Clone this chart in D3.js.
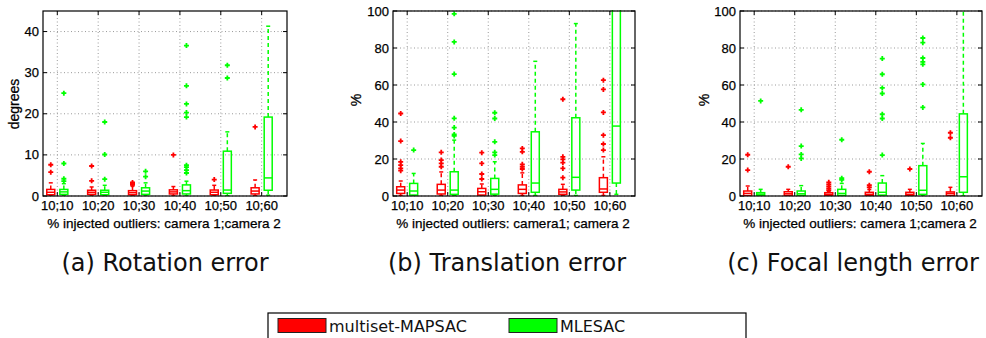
<!DOCTYPE html>
<html>
<head>
<meta charset="utf-8">
<script src="https://cdn.jsdelivr.net/npm/d3@7"></script>
<style>
  body { margin: 0; background: #fff; }
  svg { display: block; }
</style>
</head>
<body>
<div id="chart"></div>
<script>
'use strict';

// group labels on the x axis
const categories = ['10;10', '10;20', '10;30', '10;40', '10;50', '10;60'];

// box stats per group: [whisker low, q1, median, q3, whisker high]
const rotRed = [[0.05, 0.3, 0.9, 1.6, 3.2], [0.05, 0.4, 0.9, 1.4, 2.2], [0.05, 0.3, 0.8, 1.3, 2.4],
  [0.05, 0.5, 1.0, 1.5, 2.3], [0.05, 0.3, 0.9, 1.45, 2.6], [0.05, 0.5, 1.2, 2.0, 3.9]];
const rotRedOut = [[7.6, 5.8], [7.3, 3.7], [3.3, 3.0, 2.7], [10.0], [4.0], [16.8]];
const rotGreen = [[0.05, 0.4, 1.0, 1.6, 3.0], [0.05, 0.3, 0.9, 1.4, 2.6], [0.05, 0.4, 1.2, 2.0, 3.2],
  [0.05, 0.5, 1.3, 2.7, 3.6], [0.05, 0.65, 1.45, 10.9, 15.6], [0.2, 1.4, 4.4, 19.2, 41.3]];
const rotGreenOut = [[25.0, 7.9, 4.2, 3.6], [18.0, 10.1, 4.1], [6.0, 4.7],
  [36.6, 26.8, 22.4, 20.3, 19.2, 7.5, 7.0, 6.3, 5.6], [31.8, 28.7], []];

const transRed = [[0.3, 1.4, 3.2, 5.0, 8.1], [0.3, 1.1, 3.2, 6.3, 13.0], [0.2, 0.5, 2.3, 4.1, 6.5],
  [0.3, 1.4, 3.6, 6.0, 12.5], [0.2, 0.9, 2.2, 3.6, 6.3], [0.3, 2.0, 3.8, 9.9, 21.2]];
const transRedOut = [[44.6, 29.7, 18.5, 16.7, 14.9, 13.7], [23.6, 19.4, 17.6, 15.8], [23.4, 17.6, 11.9, 9.2],
  [25.7, 23.9, 17.1, 15.8, 14.6], [52.3, 21.2, 19.8, 18.0, 14.9, 9.9], [62.6, 57.6, 45.2, 32.9, 28.1, 24.8]];
const transGreen = [[0.2, 0.5, 2.7, 6.8, 12.2], [0.2, 0.9, 3.2, 13.1, 30.2], [0.2, 1.0, 3.6, 9.5, 18.5],
  [0.3, 2.0, 7.0, 34.7, 72.8], [0.3, 3.2, 10.1, 42.3, 93.2], [0.9, 7.0, 37.8, 110, 150]];
const transGreenOut = [[24.8], [98.5, 83.3, 65.9, 42.0, 37.0, 33.3, 32.5], [45.0, 41.9, 29.3, 23.6, 22.1], [], [], []];

const focRed = [[0.05, 0.2, 1.4, 2.7, 5.4], [0.05, 0.3, 1.2, 2.3, 3.6], [0.05, 0.2, 0.9, 1.8, 2.5],
  [0.05, 0.2, 0.9, 2.0, 3.5], [0.05, 0.2, 0.9, 2.0, 3.6], [0.05, 0.3, 1.4, 2.2, 4.7]];
const focRedOut = [[22.3, 14.0], [15.8], [7.4, 6.3, 5.2, 4.1, 3.2], [13.1, 5.8, 4.7], [14.6], [34.2, 31.5]];
const focGreen = [[0.05, 0.3, 1.0, 1.8, 3.6], [0.05, 0.3, 1.2, 2.7, 5.6], [0.05, 0.3, 1.4, 3.6, 6.8],
  [0.05, 0.5, 2.0, 7.0, 11.0], [0.05, 0.9, 3.1, 16.4, 28.4], [0.05, 2.0, 10.4, 44.4, 130]];
const focGreenOut = [[51.4], [46.6, 27.0, 22.5, 20.3], [30.4, 9.6, 8.7],
  [74.3, 65.8, 58.4, 55.4, 44.2, 41.9, 22.1], [85.4, 82.9, 74.6, 72.5, 71.2, 60.3, 47.9], []];

const seriesNames = ['multiset-MAPSAC', 'MLESAC'];
const seriesColors = ['#ff0000', '#00ff00'];

const rotTicks = [0, 10, 20, 30, 40];
const pctTicks = [0, 20, 40, 60, 80, 100];

const svg = d3.select('#chart').append('svg')
  .attr('width', 986)
  .attr('height', 338)

const axisFont = 'Liberation Sans, Arial, sans-serif'
const captionFont = 'DejaVu Sans, sans-serif'

// matlab-ish text is a bit heavier than plain Liberation Sans
function axis_text(sel, size) {
  return sel.attr('font-family', axisFont).attr('font-size', size)
    .attr('fill', '#000').attr('stroke', '#000').attr('stroke-width', 0.25)
}

function draw_panel(opts) {
  const top = 11, bottom = 196
  const x = d3.scaleLinear().domain([-0.35, 5.62]).range([opts.left, opts.right])
  const y = d3.scaleLinear().domain(opts.yDomain).range([bottom, top])
  const g = svg.append('g')

  // grid
  g.append('g').selectAll('line').data(opts.yTicks).join('line')
    .attr('x1', opts.left).attr('x2', opts.right)
    .attr('y1', d => y(d)).attr('y2', d => y(d))
    .attr('stroke', '#9a9a9a').attr('stroke-dasharray', '1,2.5')
  g.append('g').selectAll('line').data(categories).join('line')
    .attr('x1', (d, i) => x(i)).attr('x2', (d, i) => x(i))
    .attr('y1', top).attr('y2', bottom)
    .attr('stroke', '#9a9a9a').attr('stroke-dasharray', '1,2.5')

  // inward ticks on all four sides
  const tk = g.append('g').attr('stroke', '#000').attr('stroke-width', 1)
  opts.yTicks.forEach(v => {
    tk.append('line').attr('x1', opts.left).attr('x2', opts.left + 4).attr('y1', y(v)).attr('y2', y(v))
    tk.append('line').attr('x1', opts.right).attr('x2', opts.right - 4).attr('y1', y(v)).attr('y2', y(v))
  })
  categories.forEach((c, i) => {
    tk.append('line').attr('x1', x(i)).attr('x2', x(i)).attr('y1', bottom).attr('y2', bottom - 4)
    tk.append('line').attr('x1', x(i)).attr('x2', x(i)).attr('y1', top).attr('y2', top + 4)
  })

  const clipId = 'clip' + opts.id
  svg.append('clipPath').attr('id', clipId).append('rect')
    .attr('x', opts.left).attr('y', top - 1)
    .attr('width', opts.right - opts.left).attr('height', bottom - top + 1)
  const plot = g.append('g').attr('clip-path', `url(#${clipId})`)

  const boxW = 8
  opts.series.forEach((s, si) => {
    const col = seriesColors[si]
    const offset = si === 0 ? -0.16 : 0.16
    s.stats.forEach((st, i) => {
      const cx = x(i + offset)
      const bg = plot.append('g').attr('stroke', col).attr('fill', 'none').attr('stroke-width', 1.5)
      // whiskers
      bg.append('line').attr('x1', cx).attr('x2', cx).attr('y1', y(st[3])).attr('y2', y(st[4]))
        .attr('stroke-dasharray', '4,3')
      bg.append('line').attr('x1', cx).attr('x2', cx).attr('y1', y(st[1])).attr('y2', y(st[0]))
        .attr('stroke-dasharray', '4,3')
      bg.append('line').attr('x1', cx - boxW / 4).attr('x2', cx + boxW / 4).attr('y1', y(st[4])).attr('y2', y(st[4]))
      bg.append('line').attr('x1', cx - boxW / 4).attr('x2', cx + boxW / 4).attr('y1', y(st[0])).attr('y2', y(st[0]))
      // box and median
      bg.append('rect').attr('x', cx - boxW / 2).attr('width', boxW)
        .attr('y', y(st[3])).attr('height', y(st[1]) - y(st[3]))
      bg.append('line').attr('x1', cx - boxW / 2).attr('x2', cx + boxW / 2).attr('y1', y(st[2])).attr('y2', y(st[2]))
      // outliers
      bg.selectAll('path').data(s.outliers[i]).join('path')
        .attr('d', d => `M${cx - 2.5},${y(d)}H${cx + 2.5}M${cx},${y(d) - 2.5}V${y(d) + 2.5}`)
        .attr('stroke-width', 1.8)
    })
  })

  // frame
  g.append('rect').attr('x', opts.left).attr('y', top)
    .attr('width', opts.right - opts.left).attr('height', bottom - top)
    .attr('fill', 'none').attr('stroke', '#000').attr('stroke-width', 1.2)

  // tick labels
  g.append('g').selectAll('text').data(opts.yTicks).join('text')
    .attr('x', opts.left - 4).attr('y', d => y(d)).attr('dy', '0.35em')
    .attr('text-anchor', 'end').call(axis_text, 13).text(d => d)
  g.append('g').selectAll('text').data(categories).join('text')
    .attr('x', (d, i) => x(i)).attr('y', 210)
    .attr('text-anchor', 'middle').call(axis_text, 13).text(d => d)

  // axis titles
  g.append('text')
    .attr('x', (opts.left + opts.right) / 2 - 1).attr('y', 228)
    .attr('text-anchor', 'middle').call(axis_text, 13.5).text(opts.xTitle)
  g.append('text')
    .attr('transform', `translate(${opts.yTitleX},${opts.yTitleY}) rotate(-90)`)
    .attr('text-anchor', 'middle').call(axis_text, 14).text(opts.yTitle)

  // caption
  svg.append('text')
    .attr('x', opts.captionX).attr('y', 271)
    .attr('text-anchor', 'middle').attr('font-family', captionFont).attr('font-size', 24)
    .attr('fill', '#111').text(opts.caption)
}

draw_panel({
  id: 'a', left: 43, right: 287, yDomain: [0, 45], yTicks: rotTicks,
  series: [{ stats: rotRed, outliers: rotRedOut }, { stats: rotGreen, outliers: rotGreenOut }],
  xTitle: '% injected outliers: camera 1;camera 2', yTitle: 'degrees', yTitleX: 19, yTitleY: 104,
  caption: '(a) Rotation error', captionX: 165
})
draw_panel({
  id: 'b', left: 393, right: 635, yDomain: [0, 100], yTicks: pctTicks,
  series: [{ stats: transRed, outliers: transRedOut }, { stats: transGreen, outliers: transGreenOut }],
  xTitle: '% injected outliers: camera1; camera 2', yTitle: '%', yTitleX: 361, yTitleY: 100,
  caption: '(b) Translation error', captionX: 507
})
draw_panel({
  id: 'c', left: 740, right: 982, yDomain: [0, 100], yTicks: pctTicks,
  series: [{ stats: focRed, outliers: focRedOut }, { stats: focGreen, outliers: focGreenOut }],
  xTitle: '% injected outliers: camera 1;camera 2', yTitle: '%', yTitleX: 709, yTitleY: 100,
  caption: '(c) Focal length error', captionX: 853
})

// legend
const legend = svg.append('g')
legend.append('rect')
  .attr('x', 268).attr('y', 313).attr('width', 478).attr('height', 40)
  .attr('fill', '#fff').attr('stroke', '#000').attr('stroke-width', 1.2)
const legendX = [278, 509]
seriesNames.forEach((name, i) => {
  legend.append('rect')
    .attr('x', legendX[i]).attr('y', 318.5).attr('width', 48).attr('height', 14)
    .attr('fill', seriesColors[i]).attr('stroke', '#222').attr('stroke-width', 1)
  legend.append('text')
    .attr('x', legendX[i] + 51).attr('y', 331.5)
    .attr('font-family', captionFont).attr('font-size', 16)
    .attr('fill', '#111').text(name)
})
</script>
</body>
</html>
